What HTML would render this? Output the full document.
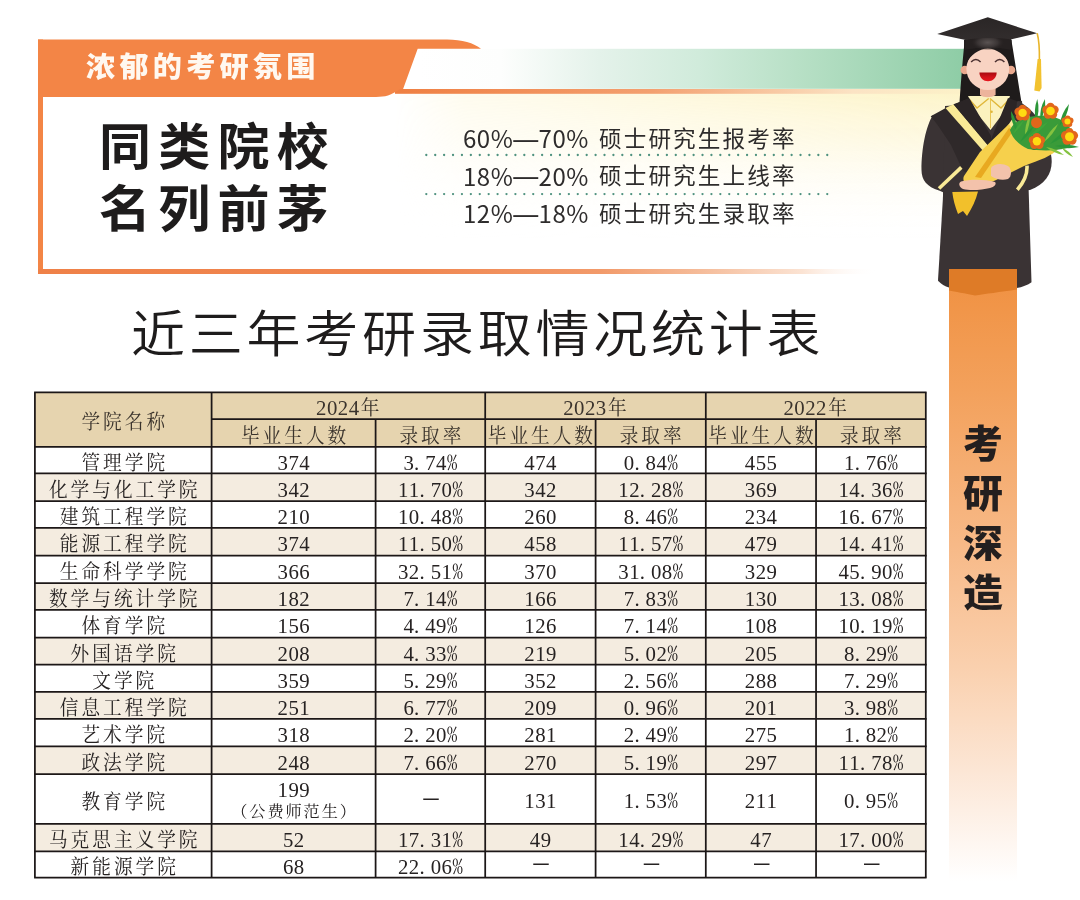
<!DOCTYPE html>
<html lang="zh-CN"><head><meta charset="utf-8"><title>近三年考研录取情况统计表</title>
<style>
html,body{margin:0;padding:0;background:#fff;}
#pg{position:relative;width:1080px;height:900px;overflow:hidden;background:#fff;}
#pg svg{position:absolute;left:0;top:0;}
.rd{font-family:"Noto Sans CJK SC",sans-serif;font-size:24px;letter-spacing:0.5px;fill:#2e2c2c;}
.rc{font-family:"Noto Sans CJK SC",sans-serif;font-size:22.6px;fill:#2e2c2c;text-anchor:middle;}
.sz{font-family:"Noto Serif CJK SC",serif;text-anchor:middle;}
.nm{font-family:"Liberation Serif",serif;font-size:20.8px;text-anchor:middle;}
.pc{font-family:"Noto Serif CJK SC",serif;font-feature-settings:"hwid";font-size:20.5px;}
.c{position:absolute;display:flex;align-items:center;justify-content:center;white-space:nowrap;color:#262222;}
.col{flex-direction:column;}
.zh{font-family:"Liberation Serif","Noto Serif CJK SC",serif;font-size:20px;letter-spacing:1.7px;text-indent:1.7px;padding-top:2px;box-sizing:border-box;}
.hd{color:#3a3430;}
.num{font-family:"Noto Serif CJK SC",serif;font-feature-settings:"hwid";font-size:21px;padding-top:2px;box-sizing:border-box;}
.sub{font-family:"Noto Serif CJK SC",serif;font-size:16px;letter-spacing:1.7px;line-height:20px;}
.dash{position:absolute;width:15.5px;height:1.6px;background:#262222;}
.t1{position:absolute;left:85.8px;top:45px;font-family:"Noto Sans CJK SC",sans-serif;font-weight:900;font-size:28px;letter-spacing:4.1px;color:#FFF8F0;transform:scaleX(1.04);transform-origin:0 0;line-height:40px;white-space:nowrap;}
.t2{position:absolute;left:99px;top:112px;font-family:"Noto Sans CJK SC",sans-serif;font-weight:700;font-size:50px;letter-spacing:7.0px;color:#1e1c1c;line-height:62px;white-space:nowrap;transform:scaleX(1.04);transform-origin:0 0;}
.em{font-family:"Liberation Sans",sans-serif;}
.t3{position:absolute;left:463px;font-family:"Noto Sans CJK SC",sans-serif;font-size:22px;letter-spacing:2.7px;color:#2e2c2c;line-height:28px;white-space:nowrap;}
.t4{position:absolute;left:131px;top:294.3px;font-family:"Noto Sans CJK SC",sans-serif;font-weight:350;font-size:50.5px;letter-spacing:3.5px;transform:scaleX(1.07);transform-origin:0 0;color:#1e1c1c;line-height:72px;white-space:nowrap;}
.t5{position:absolute;left:963px;top:416px;width:40px;transform:scaleX(1.05);transform-origin:50% 0;text-align:center;font-family:"Noto Sans CJK SC",sans-serif;font-weight:900;font-size:38px;color:#231f1f;line-height:49.8px;}
</style></head>
<body><div id="pg">
<svg width="1080" height="900" viewBox="0 0 1080 900">
<defs>
<linearGradient id="gGreen" x1="0" y1="0" x2="1" y2="0">
 <stop offset="0" stop-color="#ffffff"/>
 <stop offset="0.15" stop-color="#fdfefd"/>
 <stop offset="0.33" stop-color="#e4f2ea"/>
 <stop offset="0.51" stop-color="#d0ebdb"/>
 <stop offset="0.69" stop-color="#b8e0c6"/>
 <stop offset="1" stop-color="#8DCCA5"/>
</linearGradient>
<linearGradient id="gLine" x1="0" y1="0" x2="1" y2="0">
 <stop offset="0" stop-color="#EF7F42"/>
 <stop offset="0.45" stop-color="#F3A070"/>
 <stop offset="0.8" stop-color="#FBE3C4"/>
 <stop offset="1" stop-color="#FCF2C8"/>
</linearGradient>
<linearGradient id="gBot" x1="0" y1="0" x2="1" y2="0">
 <stop offset="0" stop-color="#EF8148"/>
 <stop offset="0.43" stop-color="#F08650"/>
 <stop offset="0.67" stop-color="#F29A6A"/>
 <stop offset="0.79" stop-color="#F5BC9A"/>
 <stop offset="0.91" stop-color="#FBE3D3"/>
 <stop offset="1" stop-color="#FFFFFF" stop-opacity="0"/>
</linearGradient>
<linearGradient id="gYel" x1="0" y1="0" x2="1" y2="0">
 <stop offset="0" stop-color="#FFFFFF" stop-opacity="0"/>
 <stop offset="0.5" stop-color="#FFFCEB" stop-opacity="0.6"/>
 <stop offset="1" stop-color="#FDF5C6"/>
</linearGradient>
<linearGradient id="gYelV" x1="0" y1="0" x2="0" y2="1">
 <stop offset="0" stop-color="#FFFFFF" stop-opacity="0"/>
 <stop offset="1" stop-color="#FFFFFF" stop-opacity="1"/>
</linearGradient>
<linearGradient id="gYelV2" x1="0" y1="0" x2="0" y2="1">
 <stop offset="0" stop-color="#FDF4C8" stop-opacity="1"/>
 <stop offset="0.35" stop-color="#FEF8DC" stop-opacity="0.8"/>
 <stop offset="1" stop-color="#FFFFFF" stop-opacity="0"/>
</linearGradient>
<linearGradient id="gMaskH" x1="0" y1="0" x2="1" y2="0">
 <stop offset="0" stop-color="#fff" stop-opacity="0"/>
 <stop offset="0.12" stop-color="#fff" stop-opacity="0.3"/>
 <stop offset="0.5" stop-color="#fff" stop-opacity="0.6"/>
 <stop offset="1" stop-color="#fff" stop-opacity="1"/>
</linearGradient>
<mask id="mH" maskUnits="userSpaceOnUse" x="0" y="0" width="1080" height="900"><rect x="395" y="93" width="575" height="150" fill="url(#gMaskH)"/></mask>
<linearGradient id="gBanner" x1="0" y1="0" x2="0" y2="1">
 <stop offset="0" stop-color="#F09040"/>
 <stop offset="0.2" stop-color="#F3A15C"/>
 <stop offset="0.45" stop-color="#F7B987"/>
 <stop offset="0.65" stop-color="#FAD0AE"/>
 <stop offset="0.82" stop-color="#FCE6D5"/>
 <stop offset="1" stop-color="#FFFFFF"/>
</linearGradient>
<radialGradient id="gCap" cx="0.5" cy="0.5" r="0.5">
 <stop offset="0" stop-color="#5a5352"/>
 <stop offset="0.6" stop-color="#3a3434"/>
 <stop offset="1" stop-color="#262121" stop-opacity="0"/>
</radialGradient>
<linearGradient id="gBoard" x1="0" y1="0" x2="0" y2="1">
 <stop offset="0" stop-color="#2a2626"/>
 <stop offset="1" stop-color="#322d2d"/>
</linearGradient>
<linearGradient id="gMouth" x1="0" y1="0" x2="0" y2="1">
 <stop offset="0" stop-color="#A80A10"/>
 <stop offset="0.5" stop-color="#D0121A"/>
 <stop offset="1" stop-color="#E8161E"/>
</linearGradient>
</defs>
<rect x="395" y="93" width="575" height="150" fill="url(#gYelV2)" mask="url(#mH)"/>
<rect x="418" y="48.8" width="550" height="40" fill="url(#gGreen)"/>
<rect x="395" y="89" width="572" height="4.8" fill="url(#gLine)"/>
<rect x="38" y="39.5" width="5" height="234.5" fill="#F38546"/>
<rect x="38" y="269" width="840" height="5" fill="url(#gBot)"/>
<path d="M38,39.5 L447,39.5 C462,39.5 474,43 481,48.8 L417.7,48.8 L403.1,89 L400,89 C396,92 392,94 388,95.5 C384,96.6 381,96.9 376,96.9 L38,96.9 Z" fill="#F38546"/>
<line x1="426.3" y1="155" x2="832" y2="155" stroke="#4F927F" stroke-width="2.3" stroke-linecap="round" stroke-dasharray="0.01 8.9"/>
<line x1="426.3" y1="194.1" x2="832" y2="194.1" stroke="#4F927F" stroke-width="2.3" stroke-linecap="round" stroke-dasharray="0.01 8.9"/>
<rect x="949" y="269" width="68" height="612" fill="url(#gBanner)"/>

<g id="fig">
 <!-- hair back -->
 <path d="M965,38 L1011,38 C1014,55 1017,75 1021.5,102.5 L959.5,102.5 C961.5,75 963,55 965,38 Z" fill="#1f1b1b"/>
 <!-- gown lower body -->
 <path d="M943.5,188 L938,280.7 C941,284 945,286.5 949,287.5 L1016.7,288.1 C1022,287 1028,285 1031.5,282.2 L1028.6,189 Z" fill="#3a3334"/>
 <!-- left sleeve -->
 <path d="M933,115 C926,126 921.5,148 921.5,170 C921.5,180 927,187 939,190.5 L946,193.5 L963,170 L966,118 Z" fill="#3a3334"/>
 <!-- right sleeve -->
 <path d="M1018,101 C1036,110 1048,130 1051.5,158 C1053,172 1046,184 1030,190 L1017,191 L1010,128 Z" fill="#3a3334"/>
 <!-- torso -->
 <path d="M945,106 L1022,101 L1028,196 L943,196 Z" fill="#3a3334"/>
 <!-- shirt -->
 <path d="M968,96 L1010,96 L1004,112 L990.5,130 L976,112 Z" fill="#FBF2BE"/>
 <path d="M969.5,99.5 L977,108 L988.7,98.5 M990,98.5 L1001,108 L1009,99.5" fill="none" stroke="#E0B73A" stroke-width="1.3"/>
 <line x1="990.5" y1="100" x2="990.5" y2="128" stroke="#E6C24A" stroke-width="0.9"/>
 <circle cx="991.6" cy="111.7" r="1.2" fill="#E0B73A"/>
 <!-- left shawl -->
 <path d="M930.7,116.3 L945.8,107.9 L968,98.5 L992,140 L989,160 L976,177 L963,171 L951,145 L937.8,125.2 Z" fill="#2f292a"/>
 <!-- right dark band -->
 <path d="M1008,98 L1017,101 L1016,112 L995,150 L990,142 Z" fill="#2b2526"/>
 <!-- left yellow stripe -->
 <path d="M945.5,108 L953.5,104.2 L991,149 L987.6,156 Z" fill="#F9EA96"/>
 <!-- left inner dark band -->
 <path d="M953.5,104.2 L969.5,98.5 L991,136 L991,149 Z" fill="#2b2526"/>
 <!-- right yellow stripe -->
 <path d="M1013,118 L1017,122 L996,153 L993,147 Z" fill="#F9EA96"/>
 <!-- cuff stripes -->
 <path d="M939,188.5 L961.3,167.4" stroke="#F9EA96" stroke-width="3.6" fill="none"/>
 <path d="M1017.3,189.7 C1024,182 1027.5,174 1027,165.6" stroke="#F9EA96" stroke-width="3.6" fill="none"/>
 <!-- bouquet paper -->
 <path d="M1009,124 C1016,136 1026,148 1034,150 L1058,149 C1052,156 1040,160 1024,166 L1000,178 C990,183 980,187 970,186 C965,185 962,180 964,176 L980,152 Z" fill="#F6D04C"/>
 <path d="M1009,128 L1013,131 L981,178 L975,177 Z" fill="#E8A920"/>
 <path d="M952.3,192 L978,191.5 C976,200 972,208 967,216 L963,211 L958,214 C955,206 953,199 952.3,192 Z" fill="#F2C02B"/>
 <!-- hands -->
 <path d="M991,168 C994,163 1003,163 1008,166 C1012,169 1012,176 1008,179 C1002,181 995,179 991,176 Z" fill="#F3C2AB"/>
 <path d="M961,181.5 C970,179 985,179 995,182 C997,184 994,187 990,188 C982,190 970,191 963,189 C959,187 958,183 961,181.5 Z" fill="#F3C2AB"/>
 <!-- leaf mass -->
 <path d="M1010,130 C1014,121 1024,117 1036,116 C1048,114 1060,117 1068,125 C1074,133 1074,142 1068,148 C1056,151 1040,151 1028,149 C1019,145 1012,138 1010,130 Z" fill="#3A9B39"/>
 <path d="M1036.0,122.0 Q1040.2,110.7 1037.3,99.0 Q1033.1,110.3 1036.0,122.0 Z" fill="#2B9638"/>
 <path d="M1040.4,120.0 Q1046.2,110.3 1045.0,99.0 Q1039.2,108.7 1040.4,120.0 Z" fill="#2B9638"/>
 <path d="M1059.5,126.0 Q1067.6,116.4 1069.0,104.0 Q1060.9,113.6 1059.5,126.0 Z" fill="#2B9638"/>
 <path d="M1017.0,132.0 Q1017.3,120.6 1011.0,111.0 Q1010.7,122.4 1017.0,132.0 Z" fill="#2B9638"/>
 <path d="M1055.0,146.0 Q1066.9,149.7 1079.0,147.0 Q1067.1,143.3 1055.0,146.0 Z" fill="#2B9638"/>
 <path d="M1046.0,147.0 Q1053.9,153.4 1064.0,155.0 Q1056.1,148.6 1046.0,147.0 Z" fill="#84C23F"/>
 <path d="M1025.0,136.0 Q1030.4,125.7 1030.0,114.0 Q1024.6,124.3 1025.0,136.0 Z" fill="#84C23F"/>
 <path d="M1028.0,138.0 Q1040.0,132.5 1048.0,122.0 Q1036.0,127.5 1028.0,138.0 Z" fill="#3FA53A"/>
 <path d="M1044.0,142.0 Q1053.4,134.8 1058.0,124.0 Q1048.6,131.2 1044.0,142.0 Z" fill="#84C23F"/>
 <path d="M1050.0,144.0 Q1062.9,138.6 1072.0,128.0 Q1059.1,133.4 1050.0,144.0 Z" fill="#2B9638"/>
 <path d="M1020.0,142.0 Q1029.1,135.8 1034.0,126.0 Q1024.9,132.2 1020.0,142.0 Z" fill="#2B9638"/>
 <path d="M1062.0,148.0 Q1066.0,154.4 1073.0,157.0 Q1069.0,150.6 1062.0,148.0 Z" fill="#84C23F"/>
 <path d="M1013.0,134.0 Q1020.5,128.6 1024.0,120.0 Q1016.5,125.4 1013.0,134.0 Z" fill="#3FA53A"/>
 <!-- flowers -->
 <g fill="#E2661B">
  <circle cx="1036.5" cy="122.7" r="5.5"/>
  <g transform="translate(1022.6,112.9)"><circle r="6"/><circle cx="0" cy="-4" r="4.2"/><circle cx="4" cy="-1.2" r="4.2"/><circle cx="2.5" cy="3.5" r="4.2"/><circle cx="-2.5" cy="3.5" r="4.2"/><circle cx="-4" cy="-1.2" r="4.2"/></g>
  <g transform="translate(1050.5,111)"><circle r="6"/><circle cx="0" cy="-4" r="4.2"/><circle cx="4" cy="-1.2" r="4.2"/><circle cx="2.5" cy="3.5" r="4.2"/><circle cx="-2.5" cy="3.5" r="4.2"/><circle cx="-4" cy="-1.2" r="4.2"/></g>
  <g transform="translate(1036.9,141.3)"><circle r="6"/><circle cx="0" cy="-4" r="4.2"/><circle cx="4" cy="-1.2" r="4.2"/><circle cx="2.5" cy="3.5" r="4.2"/><circle cx="-2.5" cy="3.5" r="4.2"/><circle cx="-4" cy="-1.2" r="4.2"/></g>
  <g transform="translate(1069.5,136.7)"><circle r="6.3"/><circle cx="0" cy="-4.2" r="4.4"/><circle cx="4.2" cy="-1.2" r="4.4"/><circle cx="2.6" cy="3.6" r="4.4"/><circle cx="-2.6" cy="3.6" r="4.4"/><circle cx="-4.2" cy="-1.2" r="4.4"/></g>
  <g transform="translate(1067.5,121.5)"><circle r="4.2"/><circle cx="0" cy="-3" r="3"/><circle cx="3" cy="-1" r="3"/><circle cx="1.8" cy="2.6" r="3"/><circle cx="-1.8" cy="2.6" r="3"/><circle cx="-3" cy="-1" r="3"/></g>
 </g>
 <g fill="#FFDC12">
  <circle cx="1022.6" cy="112.9" r="4.2"/>
  <circle cx="1050.5" cy="111" r="4.3"/>
  <circle cx="1036.9" cy="141.3" r="4.2"/>
  <circle cx="1069.5" cy="136.7" r="4.5"/>
  <circle cx="1067.5" cy="121.5" r="3"/>
 </g>
 <!-- neck -->
 <path d="M980,84 L995.6,84 L995.6,95 C991,98 984,98 980,95 Z" fill="#EDB49C"/>
 <!-- ears -->
 <circle cx="964.8" cy="70" r="4.3" fill="#EAA98E"/>
 <circle cx="1011" cy="70" r="4.3" fill="#EAA98E"/>
 <!-- face -->
 <ellipse cx="987.8" cy="68.8" rx="21.4" ry="21.3" fill="#F8D3C2"/>
 <!-- hair over face -->
 <path d="M964,40 L987.8,40 L987.8,48.3 C979,49 970,55 966.3,64 L964.5,64 Z" fill="#1f1b1b"/>
 <path d="M1011.6,40 L987.8,40 L987.8,48.3 C996.6,49 1005.6,55 1009.8,64 L1011.4,64 Z" fill="#1f1b1b"/>
 <!-- eyes -->
 <path d="M971.1,62 Q975.8,57 980.6,62" fill="none" stroke="#4a3030" stroke-width="1.5"/>
 <path d="M995,62 Q999.7,57 1004.4,62" fill="none" stroke="#4a3030" stroke-width="1.5"/>
 <!-- mouth -->
 <path d="M979.4,72.6 L996.7,72.6 C996.5,78.5 992.5,81.3 988,81.3 C983.5,81.3 979.6,78.5 979.4,72.6 Z" fill="url(#gMouth)"/>
 <!-- cap dome -->
 <path d="M965.6,34 L1010.6,34 L1011.2,50 C1000,47 976,47 964.8,50 Z" fill="#262121"/>
 <ellipse cx="987.8" cy="42.5" rx="17" ry="8" fill="url(#gCap)"/>
 <!-- cap board -->
 <path d="M937.2,33.9 L987.8,17.2 L1037.2,33.3 L1010.6,39.4 C1000,37.5 976,37.5 965.6,40 Z" fill="url(#gBoard)"/>
 <!-- tassel -->
 <path d="M1037.2,33.3 C1039,40 1039.6,50 1039.4,61" stroke="#E9B52A" stroke-width="1.6" fill="none"/>
 <path d="M1037.6,59 L1041,59 L1041.6,88 L1039.5,91.5 L1034.3,90.5 Z" fill="#F2C22F"/>
</g>
<path d="M949,269 L1017,269 L1017,289.5 C1000,292 985,294 975,295.5 C965,293.5 955,291.5 949,290.5 Z" fill="#DE7B27"/>
<rect x="34.9" y="392.4" width="890.9" height="54.5" fill="#E6D4AF"/>
<rect x="34.9" y="473.4" width="890.9" height="27.600000000000023" fill="#F4ECE0"/>
<rect x="34.9" y="527.8" width="890.9" height="27.90000000000009" fill="#F4ECE0"/>
<rect x="34.9" y="583.1" width="890.9" height="26.799999999999955" fill="#F4ECE0"/>
<rect x="34.9" y="637.7" width="890.9" height="26.799999999999955" fill="#F4ECE0"/>
<rect x="34.9" y="691.9" width="890.9" height="27.0" fill="#F4ECE0"/>
<rect x="34.9" y="746.3" width="890.9" height="27.800000000000068" fill="#F4ECE0"/>
<rect x="34.9" y="823.8" width="890.9" height="27.5" fill="#F4ECE0"/>
<line x1="34.1" y1="392.4" x2="926.5999999999999" y2="392.4" stroke="#1c1717" stroke-width="1.75"/>
<line x1="211.6" y1="419.1" x2="925.8" y2="419.1" stroke="#1c1717" stroke-width="1.75"/>
<line x1="34.1" y1="446.9" x2="926.5999999999999" y2="446.9" stroke="#1c1717" stroke-width="1.75"/>
<line x1="34.1" y1="473.4" x2="926.5999999999999" y2="473.4" stroke="#1c1717" stroke-width="1.75"/>
<line x1="34.1" y1="501.0" x2="926.5999999999999" y2="501.0" stroke="#1c1717" stroke-width="1.75"/>
<line x1="34.1" y1="527.8" x2="926.5999999999999" y2="527.8" stroke="#1c1717" stroke-width="1.75"/>
<line x1="34.1" y1="555.7" x2="926.5999999999999" y2="555.7" stroke="#1c1717" stroke-width="1.75"/>
<line x1="34.1" y1="583.1" x2="926.5999999999999" y2="583.1" stroke="#1c1717" stroke-width="1.75"/>
<line x1="34.1" y1="609.9" x2="926.5999999999999" y2="609.9" stroke="#1c1717" stroke-width="1.75"/>
<line x1="34.1" y1="637.7" x2="926.5999999999999" y2="637.7" stroke="#1c1717" stroke-width="1.75"/>
<line x1="34.1" y1="664.5" x2="926.5999999999999" y2="664.5" stroke="#1c1717" stroke-width="1.75"/>
<line x1="34.1" y1="691.9" x2="926.5999999999999" y2="691.9" stroke="#1c1717" stroke-width="1.75"/>
<line x1="34.1" y1="718.9" x2="926.5999999999999" y2="718.9" stroke="#1c1717" stroke-width="1.75"/>
<line x1="34.1" y1="746.3" x2="926.5999999999999" y2="746.3" stroke="#1c1717" stroke-width="1.75"/>
<line x1="34.1" y1="774.1" x2="926.5999999999999" y2="774.1" stroke="#1c1717" stroke-width="1.75"/>
<line x1="34.1" y1="823.8" x2="926.5999999999999" y2="823.8" stroke="#1c1717" stroke-width="1.75"/>
<line x1="34.1" y1="851.3" x2="926.5999999999999" y2="851.3" stroke="#1c1717" stroke-width="1.75"/>
<line x1="34.1" y1="877.6" x2="926.5999999999999" y2="877.6" stroke="#1c1717" stroke-width="1.75"/>
<line x1="34.9" y1="392.4" x2="34.9" y2="877.6" stroke="#1c1717" stroke-width="1.75"/>
<line x1="211.6" y1="392.4" x2="211.6" y2="877.6" stroke="#1c1717" stroke-width="1.75"/>
<line x1="375.6" y1="419.1" x2="375.6" y2="877.6" stroke="#1c1717" stroke-width="1.75"/>
<line x1="485.2" y1="392.4" x2="485.2" y2="877.6" stroke="#1c1717" stroke-width="1.75"/>
<line x1="595.6" y1="419.1" x2="595.6" y2="877.6" stroke="#1c1717" stroke-width="1.75"/>
<line x1="705.8" y1="392.4" x2="705.8" y2="877.6" stroke="#1c1717" stroke-width="1.75"/>
<line x1="816.05" y1="419.1" x2="816.05" y2="877.6" stroke="#1c1717" stroke-width="1.75"/>
<line x1="925.8" y1="392.4" x2="925.8" y2="877.6" stroke="#1c1717" stroke-width="1.75"/>
<text class="sz" transform="scale(0.91 1)" x="99.75 123.54 147.34 171.13" y="429.05" font-size="20.5" fill="#3a332c">学院名称</text>
<text class="nm" y="415.15" fill="#3a332c"><tspan x="321.22">2</tspan><tspan x="332.12">0</tspan><tspan x="343.02">2</tspan><tspan x="353.92">4</tspan></text>
<text class="sz" transform="scale(0.91 1)" x="406.81" y="415.15" font-size="20.5" fill="#3a332c">年</text>
<text class="sz" transform="scale(0.91 1)" x="275.05 298.85 322.64 346.43 370.22" y="442.6" font-size="20.5" fill="#3a332c">毕业生人数</text>
<text class="sz" transform="scale(0.91 1)" x="449.18 472.97 496.76" y="442.6" font-size="20.5" fill="#3a332c">录取率</text>
<text class="nm" y="415.15" fill="#3a332c"><tspan x="568.33">2</tspan><tspan x="579.23">0</tspan><tspan x="590.12">2</tspan><tspan x="601.02">3</tspan></text>
<text class="sz" transform="scale(0.91 1)" x="678.35" y="415.15" font-size="20.5" fill="#3a332c">年</text>
<text class="sz" transform="scale(0.91 1)" x="546.26 570.05 593.85 617.64 641.43" y="442.6" font-size="20.5" fill="#3a332c">毕业生人数</text>
<text class="sz" transform="scale(0.91 1)" x="691.26 715.05 738.85" y="442.6" font-size="20.5" fill="#3a332c">录取率</text>
<text class="nm" y="415.15" fill="#3a332c"><tspan x="788.62">2</tspan><tspan x="799.52">0</tspan><tspan x="810.42">2</tspan><tspan x="821.32">2</tspan></text>
<text class="sz" transform="scale(0.91 1)" x="920.44" y="415.15" font-size="20.5" fill="#3a332c">年</text>
<text class="sz" transform="scale(0.91 1)" x="788.60 812.39 836.18 859.97 883.76" y="442.6" font-size="20.5" fill="#3a332c">毕业生人数</text>
<text class="sz" transform="scale(0.91 1)" x="933.27 957.06 980.85" y="442.6" font-size="20.5" fill="#3a332c">录取率</text>
<text class="sz" transform="scale(0.91 1)" x="99.75 123.54 147.34 171.13" y="469.75" font-size="20.5" fill="#262222">管理学院</text>
<text class="nm" y="469.54999999999995" fill="#262222"><tspan x="282.70">3</tspan><tspan x="293.60">7</tspan><tspan x="304.50">4</tspan></text>
<text class="nm" y="469.54999999999995" fill="#262222"><tspan x="408.60">3</tspan><tspan x="416.70">.</tspan><tspan x="430.40">7</tspan><tspan x="441.30">4</tspan><tspan class="pc" x="452.20">%</tspan></text>
<text class="nm" y="469.54999999999995" fill="#262222"><tspan x="529.50">4</tspan><tspan x="540.40">7</tspan><tspan x="551.30">4</tspan></text>
<text class="nm" y="469.54999999999995" fill="#262222"><tspan x="628.90">0</tspan><tspan x="637.00">.</tspan><tspan x="650.70">8</tspan><tspan x="661.60">4</tspan><tspan class="pc" x="672.50">%</tspan></text>
<text class="nm" y="469.54999999999995" fill="#262222"><tspan x="750.02">4</tspan><tspan x="760.92">5</tspan><tspan x="771.82">5</tspan></text>
<text class="nm" y="469.54999999999995" fill="#262222"><tspan x="849.12">1</tspan><tspan x="857.23">.</tspan><tspan x="870.92">7</tspan><tspan x="881.82">6</tspan><tspan class="pc" x="892.72">%</tspan></text>
<text class="sz" transform="scale(0.91 1)" x="64.07 87.86 111.65 135.44 159.23 183.02 206.81" y="496.8" font-size="20.5" fill="#262222">化学与化工学院</text>
<text class="nm" y="496.59999999999997" fill="#262222"><tspan x="282.70">3</tspan><tspan x="293.60">4</tspan><tspan x="304.50">2</tspan></text>
<text class="nm" y="496.59999999999997" fill="#262222"><tspan x="403.15">1</tspan><tspan x="414.05">1</tspan><tspan x="422.15">.</tspan><tspan x="435.85">7</tspan><tspan x="446.75">0</tspan><tspan class="pc" x="457.65">%</tspan></text>
<text class="nm" y="496.59999999999997" fill="#262222"><tspan x="529.50">3</tspan><tspan x="540.40">4</tspan><tspan x="551.30">2</tspan></text>
<text class="nm" y="496.59999999999997" fill="#262222"><tspan x="623.45">1</tspan><tspan x="634.35">2</tspan><tspan x="642.45">.</tspan><tspan x="656.15">2</tspan><tspan x="667.05">8</tspan><tspan class="pc" x="677.95">%</tspan></text>
<text class="nm" y="496.59999999999997" fill="#262222"><tspan x="750.02">3</tspan><tspan x="760.92">6</tspan><tspan x="771.82">9</tspan></text>
<text class="nm" y="496.59999999999997" fill="#262222"><tspan x="843.67">1</tspan><tspan x="854.57">4</tspan><tspan x="862.67">.</tspan><tspan x="876.37">3</tspan><tspan x="887.27">6</tspan><tspan class="pc" x="898.17">%</tspan></text>
<text class="sz" transform="scale(0.91 1)" x="75.96 99.75 123.54 147.34 171.13 194.92" y="524.0" font-size="20.5" fill="#262222">建筑工程学院</text>
<text class="nm" y="523.8" fill="#262222"><tspan x="282.70">2</tspan><tspan x="293.60">1</tspan><tspan x="304.50">0</tspan></text>
<text class="nm" y="523.8" fill="#262222"><tspan x="403.15">1</tspan><tspan x="414.05">0</tspan><tspan x="422.15">.</tspan><tspan x="435.85">4</tspan><tspan x="446.75">8</tspan><tspan class="pc" x="457.65">%</tspan></text>
<text class="nm" y="523.8" fill="#262222"><tspan x="529.50">2</tspan><tspan x="540.40">6</tspan><tspan x="551.30">0</tspan></text>
<text class="nm" y="523.8" fill="#262222"><tspan x="628.90">8</tspan><tspan x="637.00">.</tspan><tspan x="650.70">4</tspan><tspan x="661.60">6</tspan><tspan class="pc" x="672.50">%</tspan></text>
<text class="nm" y="523.8" fill="#262222"><tspan x="750.02">2</tspan><tspan x="760.92">3</tspan><tspan x="771.82">4</tspan></text>
<text class="nm" y="523.8" fill="#262222"><tspan x="843.67">1</tspan><tspan x="854.57">6</tspan><tspan x="862.67">.</tspan><tspan x="876.37">6</tspan><tspan x="887.27">7</tspan><tspan class="pc" x="898.17">%</tspan></text>
<text class="sz" transform="scale(0.91 1)" x="75.96 99.75 123.54 147.34 171.13 194.92" y="551.35" font-size="20.5" fill="#262222">能源工程学院</text>
<text class="nm" y="551.15" fill="#262222"><tspan x="282.70">3</tspan><tspan x="293.60">7</tspan><tspan x="304.50">4</tspan></text>
<text class="nm" y="551.15" fill="#262222"><tspan x="403.15">1</tspan><tspan x="414.05">1</tspan><tspan x="422.15">.</tspan><tspan x="435.85">5</tspan><tspan x="446.75">0</tspan><tspan class="pc" x="457.65">%</tspan></text>
<text class="nm" y="551.15" fill="#262222"><tspan x="529.50">4</tspan><tspan x="540.40">5</tspan><tspan x="551.30">8</tspan></text>
<text class="nm" y="551.15" fill="#262222"><tspan x="623.45">1</tspan><tspan x="634.35">1</tspan><tspan x="642.45">.</tspan><tspan x="656.15">5</tspan><tspan x="667.05">7</tspan><tspan class="pc" x="677.95">%</tspan></text>
<text class="nm" y="551.15" fill="#262222"><tspan x="750.02">4</tspan><tspan x="760.92">7</tspan><tspan x="771.82">9</tspan></text>
<text class="nm" y="551.15" fill="#262222"><tspan x="843.67">1</tspan><tspan x="854.57">4</tspan><tspan x="862.67">.</tspan><tspan x="876.37">4</tspan><tspan x="887.27">1</tspan><tspan class="pc" x="898.17">%</tspan></text>
<text class="sz" transform="scale(0.91 1)" x="75.96 99.75 123.54 147.34 171.13 194.92" y="579.0000000000001" font-size="20.5" fill="#262222">生命科学学院</text>
<text class="nm" y="578.8000000000001" fill="#262222"><tspan x="282.70">3</tspan><tspan x="293.60">6</tspan><tspan x="304.50">6</tspan></text>
<text class="nm" y="578.8000000000001" fill="#262222"><tspan x="403.15">3</tspan><tspan x="414.05">2</tspan><tspan x="422.15">.</tspan><tspan x="435.85">5</tspan><tspan x="446.75">1</tspan><tspan class="pc" x="457.65">%</tspan></text>
<text class="nm" y="578.8000000000001" fill="#262222"><tspan x="529.50">3</tspan><tspan x="540.40">7</tspan><tspan x="551.30">0</tspan></text>
<text class="nm" y="578.8000000000001" fill="#262222"><tspan x="623.45">3</tspan><tspan x="634.35">1</tspan><tspan x="642.45">.</tspan><tspan x="656.15">0</tspan><tspan x="667.05">8</tspan><tspan class="pc" x="677.95">%</tspan></text>
<text class="nm" y="578.8000000000001" fill="#262222"><tspan x="750.02">3</tspan><tspan x="760.92">2</tspan><tspan x="771.82">9</tspan></text>
<text class="nm" y="578.8000000000001" fill="#262222"><tspan x="843.67">4</tspan><tspan x="854.57">5</tspan><tspan x="862.67">.</tspan><tspan x="876.37">9</tspan><tspan x="887.27">0</tspan><tspan class="pc" x="898.17">%</tspan></text>
<text class="sz" transform="scale(0.91 1)" x="64.07 87.86 111.65 135.44 159.23 183.02 206.81" y="606.1" font-size="20.5" fill="#262222">数学与统计学院</text>
<text class="nm" y="605.9" fill="#262222"><tspan x="282.70">1</tspan><tspan x="293.60">8</tspan><tspan x="304.50">2</tspan></text>
<text class="nm" y="605.9" fill="#262222"><tspan x="408.60">7</tspan><tspan x="416.70">.</tspan><tspan x="430.40">1</tspan><tspan x="441.30">4</tspan><tspan class="pc" x="452.20">%</tspan></text>
<text class="nm" y="605.9" fill="#262222"><tspan x="529.50">1</tspan><tspan x="540.40">6</tspan><tspan x="551.30">6</tspan></text>
<text class="nm" y="605.9" fill="#262222"><tspan x="628.90">7</tspan><tspan x="637.00">.</tspan><tspan x="650.70">8</tspan><tspan x="661.60">3</tspan><tspan class="pc" x="672.50">%</tspan></text>
<text class="nm" y="605.9" fill="#262222"><tspan x="750.02">1</tspan><tspan x="760.92">3</tspan><tspan x="771.82">0</tspan></text>
<text class="nm" y="605.9" fill="#262222"><tspan x="843.67">1</tspan><tspan x="854.57">3</tspan><tspan x="862.67">.</tspan><tspan x="876.37">0</tspan><tspan x="887.27">8</tspan><tspan class="pc" x="898.17">%</tspan></text>
<text class="sz" transform="scale(0.91 1)" x="99.75 123.54 147.34 171.13" y="633.4" font-size="20.5" fill="#262222">体育学院</text>
<text class="nm" y="633.1999999999999" fill="#262222"><tspan x="282.70">1</tspan><tspan x="293.60">5</tspan><tspan x="304.50">6</tspan></text>
<text class="nm" y="633.1999999999999" fill="#262222"><tspan x="408.60">4</tspan><tspan x="416.70">.</tspan><tspan x="430.40">4</tspan><tspan x="441.30">9</tspan><tspan class="pc" x="452.20">%</tspan></text>
<text class="nm" y="633.1999999999999" fill="#262222"><tspan x="529.50">1</tspan><tspan x="540.40">2</tspan><tspan x="551.30">6</tspan></text>
<text class="nm" y="633.1999999999999" fill="#262222"><tspan x="628.90">7</tspan><tspan x="637.00">.</tspan><tspan x="650.70">1</tspan><tspan x="661.60">4</tspan><tspan class="pc" x="672.50">%</tspan></text>
<text class="nm" y="633.1999999999999" fill="#262222"><tspan x="750.02">1</tspan><tspan x="760.92">0</tspan><tspan x="771.82">8</tspan></text>
<text class="nm" y="633.1999999999999" fill="#262222"><tspan x="843.67">1</tspan><tspan x="854.57">0</tspan><tspan x="862.67">.</tspan><tspan x="876.37">1</tspan><tspan x="887.27">9</tspan><tspan class="pc" x="898.17">%</tspan></text>
<text class="sz" transform="scale(0.91 1)" x="87.86 111.65 135.44 159.23 183.02" y="660.7" font-size="20.5" fill="#262222">外国语学院</text>
<text class="nm" y="660.5" fill="#262222"><tspan x="282.70">2</tspan><tspan x="293.60">0</tspan><tspan x="304.50">8</tspan></text>
<text class="nm" y="660.5" fill="#262222"><tspan x="408.60">4</tspan><tspan x="416.70">.</tspan><tspan x="430.40">3</tspan><tspan x="441.30">3</tspan><tspan class="pc" x="452.20">%</tspan></text>
<text class="nm" y="660.5" fill="#262222"><tspan x="529.50">2</tspan><tspan x="540.40">1</tspan><tspan x="551.30">9</tspan></text>
<text class="nm" y="660.5" fill="#262222"><tspan x="628.90">5</tspan><tspan x="637.00">.</tspan><tspan x="650.70">0</tspan><tspan x="661.60">2</tspan><tspan class="pc" x="672.50">%</tspan></text>
<text class="nm" y="660.5" fill="#262222"><tspan x="750.02">2</tspan><tspan x="760.92">0</tspan><tspan x="771.82">5</tspan></text>
<text class="nm" y="660.5" fill="#262222"><tspan x="849.12">8</tspan><tspan x="857.23">.</tspan><tspan x="870.92">2</tspan><tspan x="881.82">9</tspan><tspan class="pc" x="892.72">%</tspan></text>
<text class="sz" transform="scale(0.91 1)" x="111.65 135.44 159.23" y="687.8000000000001" font-size="20.5" fill="#262222">文学院</text>
<text class="nm" y="687.6" fill="#262222"><tspan x="282.70">3</tspan><tspan x="293.60">5</tspan><tspan x="304.50">9</tspan></text>
<text class="nm" y="687.6" fill="#262222"><tspan x="408.60">5</tspan><tspan x="416.70">.</tspan><tspan x="430.40">2</tspan><tspan x="441.30">9</tspan><tspan class="pc" x="452.20">%</tspan></text>
<text class="nm" y="687.6" fill="#262222"><tspan x="529.50">3</tspan><tspan x="540.40">5</tspan><tspan x="551.30">2</tspan></text>
<text class="nm" y="687.6" fill="#262222"><tspan x="628.90">2</tspan><tspan x="637.00">.</tspan><tspan x="650.70">5</tspan><tspan x="661.60">6</tspan><tspan class="pc" x="672.50">%</tspan></text>
<text class="nm" y="687.6" fill="#262222"><tspan x="750.02">2</tspan><tspan x="760.92">8</tspan><tspan x="771.82">8</tspan></text>
<text class="nm" y="687.6" fill="#262222"><tspan x="849.12">7</tspan><tspan x="857.23">.</tspan><tspan x="870.92">2</tspan><tspan x="881.82">9</tspan><tspan class="pc" x="892.72">%</tspan></text>
<text class="sz" transform="scale(0.91 1)" x="75.96 99.75 123.54 147.34 171.13 194.92" y="715.0" font-size="20.5" fill="#262222">信息工程学院</text>
<text class="nm" y="714.8" fill="#262222"><tspan x="282.70">2</tspan><tspan x="293.60">5</tspan><tspan x="304.50">1</tspan></text>
<text class="nm" y="714.8" fill="#262222"><tspan x="408.60">6</tspan><tspan x="416.70">.</tspan><tspan x="430.40">7</tspan><tspan x="441.30">7</tspan><tspan class="pc" x="452.20">%</tspan></text>
<text class="nm" y="714.8" fill="#262222"><tspan x="529.50">2</tspan><tspan x="540.40">0</tspan><tspan x="551.30">9</tspan></text>
<text class="nm" y="714.8" fill="#262222"><tspan x="628.90">0</tspan><tspan x="637.00">.</tspan><tspan x="650.70">9</tspan><tspan x="661.60">6</tspan><tspan class="pc" x="672.50">%</tspan></text>
<text class="nm" y="714.8" fill="#262222"><tspan x="750.02">2</tspan><tspan x="760.92">0</tspan><tspan x="771.82">1</tspan></text>
<text class="nm" y="714.8" fill="#262222"><tspan x="849.12">3</tspan><tspan x="857.23">.</tspan><tspan x="870.92">9</tspan><tspan x="881.82">8</tspan><tspan class="pc" x="892.72">%</tspan></text>
<text class="sz" transform="scale(0.91 1)" x="99.75 123.54 147.34 171.13" y="742.1999999999999" font-size="20.5" fill="#262222">艺术学院</text>
<text class="nm" y="741.9999999999999" fill="#262222"><tspan x="282.70">3</tspan><tspan x="293.60">1</tspan><tspan x="304.50">8</tspan></text>
<text class="nm" y="741.9999999999999" fill="#262222"><tspan x="408.60">2</tspan><tspan x="416.70">.</tspan><tspan x="430.40">2</tspan><tspan x="441.30">0</tspan><tspan class="pc" x="452.20">%</tspan></text>
<text class="nm" y="741.9999999999999" fill="#262222"><tspan x="529.50">2</tspan><tspan x="540.40">8</tspan><tspan x="551.30">1</tspan></text>
<text class="nm" y="741.9999999999999" fill="#262222"><tspan x="628.90">2</tspan><tspan x="637.00">.</tspan><tspan x="650.70">4</tspan><tspan x="661.60">9</tspan><tspan class="pc" x="672.50">%</tspan></text>
<text class="nm" y="741.9999999999999" fill="#262222"><tspan x="750.02">2</tspan><tspan x="760.92">7</tspan><tspan x="771.82">5</tspan></text>
<text class="nm" y="741.9999999999999" fill="#262222"><tspan x="849.12">1</tspan><tspan x="857.23">.</tspan><tspan x="870.92">8</tspan><tspan x="881.82">2</tspan><tspan class="pc" x="892.72">%</tspan></text>
<text class="sz" transform="scale(0.91 1)" x="99.75 123.54 147.34 171.13" y="769.8000000000001" font-size="20.5" fill="#262222">政法学院</text>
<text class="nm" y="769.6" fill="#262222"><tspan x="282.70">2</tspan><tspan x="293.60">4</tspan><tspan x="304.50">8</tspan></text>
<text class="nm" y="769.6" fill="#262222"><tspan x="408.60">7</tspan><tspan x="416.70">.</tspan><tspan x="430.40">6</tspan><tspan x="441.30">6</tspan><tspan class="pc" x="452.20">%</tspan></text>
<text class="nm" y="769.6" fill="#262222"><tspan x="529.50">2</tspan><tspan x="540.40">7</tspan><tspan x="551.30">0</tspan></text>
<text class="nm" y="769.6" fill="#262222"><tspan x="628.90">5</tspan><tspan x="637.00">.</tspan><tspan x="650.70">1</tspan><tspan x="661.60">9</tspan><tspan class="pc" x="672.50">%</tspan></text>
<text class="nm" y="769.6" fill="#262222"><tspan x="750.02">2</tspan><tspan x="760.92">9</tspan><tspan x="771.82">7</tspan></text>
<text class="nm" y="769.6" fill="#262222"><tspan x="843.67">1</tspan><tspan x="854.57">1</tspan><tspan x="862.67">.</tspan><tspan x="876.37">7</tspan><tspan x="887.27">8</tspan><tspan class="pc" x="898.17">%</tspan></text>
<text class="sz" transform="scale(0.91 1)" x="99.75 123.54 147.34 171.13" y="808.5500000000001" font-size="20.5" fill="#262222">教育学院</text>
<text class="nm" y="797.2" fill="#262222"><tspan x="282.70">1</tspan><tspan x="293.60">9</tspan><tspan x="304.50">9</tspan></text>
<text class="sz" transform="scale(1.0 1)" x="239.30 257.40 275.50 293.60 311.70 329.80 347.90" y="817.0" font-size="16.2" fill="#262222">（公费师范生）</text>
<text x="423.35" y="804.90" font-family="Liberation Sans" font-size="22.5" textLength="15.5" lengthAdjust="spacingAndGlyphs" fill="#262222">—</text>
<text class="nm" y="808.35" fill="#262222"><tspan x="529.50">1</tspan><tspan x="540.40">3</tspan><tspan x="551.30">1</tspan></text>
<text class="nm" y="808.35" fill="#262222"><tspan x="628.90">1</tspan><tspan x="637.00">.</tspan><tspan x="650.70">5</tspan><tspan x="661.60">3</tspan><tspan class="pc" x="672.50">%</tspan></text>
<text class="nm" y="808.35" fill="#262222"><tspan x="750.02">2</tspan><tspan x="760.92">1</tspan><tspan x="771.82">1</tspan></text>
<text class="nm" y="808.35" fill="#262222"><tspan x="849.12">0</tspan><tspan x="857.23">.</tspan><tspan x="870.92">9</tspan><tspan x="881.82">5</tspan><tspan class="pc" x="892.72">%</tspan></text>
<text class="sz" transform="scale(0.91 1)" x="64.07 87.86 111.65 135.44 159.23 183.02 206.81" y="847.15" font-size="20.5" fill="#262222">马克思主义学院</text>
<text class="nm" y="846.9499999999999" fill="#262222"><tspan x="288.15">5</tspan><tspan x="299.05">2</tspan></text>
<text class="nm" y="846.9499999999999" fill="#262222"><tspan x="403.15">1</tspan><tspan x="414.05">7</tspan><tspan x="422.15">.</tspan><tspan x="435.85">3</tspan><tspan x="446.75">1</tspan><tspan class="pc" x="457.65">%</tspan></text>
<text class="nm" y="846.9499999999999" fill="#262222"><tspan x="534.95">4</tspan><tspan x="545.85">9</tspan></text>
<text class="nm" y="846.9499999999999" fill="#262222"><tspan x="623.45">1</tspan><tspan x="634.35">4</tspan><tspan x="642.45">.</tspan><tspan x="656.15">2</tspan><tspan x="667.05">9</tspan><tspan class="pc" x="677.95">%</tspan></text>
<text class="nm" y="846.9499999999999" fill="#262222"><tspan x="755.48">4</tspan><tspan x="766.38">7</tspan></text>
<text class="nm" y="846.9499999999999" fill="#262222"><tspan x="843.67">1</tspan><tspan x="854.57">7</tspan><tspan x="862.67">.</tspan><tspan x="876.37">0</tspan><tspan x="887.27">0</tspan><tspan class="pc" x="898.17">%</tspan></text>
<text class="sz" transform="scale(0.91 1)" x="87.86 111.65 135.44 159.23 183.02" y="874.0500000000001" font-size="20.5" fill="#262222">新能源学院</text>
<text class="nm" y="873.85" fill="#262222"><tspan x="288.15">6</tspan><tspan x="299.05">8</tspan></text>
<text class="nm" y="873.85" fill="#262222"><tspan x="403.15">2</tspan><tspan x="414.05">2</tspan><tspan x="422.15">.</tspan><tspan x="435.85">0</tspan><tspan x="446.75">6</tspan><tspan class="pc" x="457.65">%</tspan></text>
<text x="533.35" y="870.40" font-family="Liberation Sans" font-size="22.5" textLength="15.5" lengthAdjust="spacingAndGlyphs" fill="#262222">—</text>
<text x="643.65" y="870.40" font-family="Liberation Sans" font-size="22.5" textLength="15.5" lengthAdjust="spacingAndGlyphs" fill="#262222">—</text>
<text x="753.88" y="870.40" font-family="Liberation Sans" font-size="22.5" textLength="15.5" lengthAdjust="spacingAndGlyphs" fill="#262222">—</text>
<text x="863.88" y="870.40" font-family="Liberation Sans" font-size="22.5" textLength="15.5" lengthAdjust="spacingAndGlyphs" fill="#262222">—</text>
<text class="rd" x="463.0" y="147.8">60%</text>
<text x="513.3" y="147.65" font-family="Liberation Sans" font-size="28.5" textLength="25" lengthAdjust="spacingAndGlyphs" fill="#2e2c2c">—</text>
<text class="rd" x="538.6" y="147.8">70%</text>
<text class="rc" x="610.3 635.0 659.7 684.4 709.1 733.8 758.5 783.2" y="146.6">硕士研究生报考率</text>
<text class="rd" x="463.0" y="185.5">18%</text>
<text x="513.3" y="185.35" font-family="Liberation Sans" font-size="28.5" textLength="25" lengthAdjust="spacingAndGlyphs" fill="#2e2c2c">—</text>
<text class="rd" x="538.6" y="185.5">20%</text>
<text class="rc" x="610.3 635.0 659.7 684.4 709.1 733.8 758.5 783.2" y="184.3">硕士研究生上线率</text>
<text class="rd" x="463.0" y="223.2">12%</text>
<text x="513.3" y="223.05" font-family="Liberation Sans" font-size="28.5" textLength="25" lengthAdjust="spacingAndGlyphs" fill="#2e2c2c">—</text>
<text class="rd" x="538.6" y="223.2">18%</text>
<text class="rc" x="610.3 635.0 659.7 684.4 709.1 733.8 758.5 783.2" y="222.0">硕士研究生录取率</text>
</svg>
<div class="t1">浓郁的考研氛围</div>
<div class="t2"><span>同类院校</span><br><span>名列前茅</span></div>
<div class="t4">近三年考研录取情况统计表</div>
<div class="t5">考<br>研<br>深<br>造</div>
</div></body></html>
